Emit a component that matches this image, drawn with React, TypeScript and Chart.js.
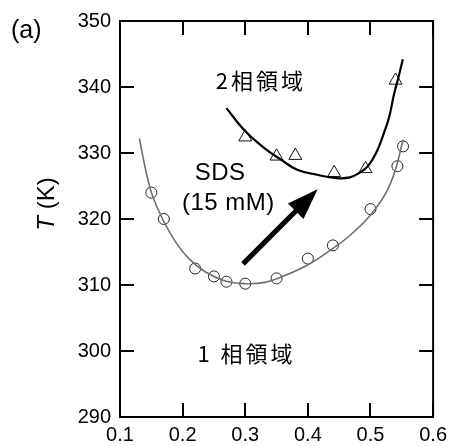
import React, { useEffect, useRef } from 'react';
import { Chart, registerables } from 'chart.js';
Chart.register(...registerables);

// 1-phase boundary (circles)
const circleX = [0.15, 0.17, 0.22, 0.25, 0.27, 0.30, 0.35, 0.40, 0.44, 0.50, 0.543, 0.552];
const circleY = [324.0, 320.0, 312.5, 311.3, 310.5, 310.2, 311.0, 314.0, 316.0, 321.5, 328.0, 331.0];

// 2-phase boundary (triangles)
const triX = [0.30, 0.35, 0.38, 0.442, 0.492, 0.540];
const triY = [332.4, 329.5, 329.6, 327.0, 327.6, 341.0];

// gray fit curve
const grayFitX = [0.131, 0.142, 0.152, 0.168, 0.189, 0.210, 0.236, 0.268, 0.300, 0.331, 0.362, 0.399, 0.435, 0.467, 0.499, 0.525, 0.540, 0.552];
const grayFitY = [332.2, 327.0, 323.5, 320.0, 316.5, 314.0, 312.0, 310.6, 310.2, 310.4, 311.4, 313.0, 315.2, 317.5, 320.5, 324.0, 327.5, 332.0];

// black fit curve
const blackFitX = [0.270, 0.299, 0.331, 0.357, 0.383, 0.4145, 0.446, 0.467, 0.4825, 0.4958, 0.5088, 0.5193, 0.5297, 0.5376, 0.5445, 0.5517];
const blackFitY = [336.8, 333.4, 330.7, 329.0, 327.45, 326.7, 326.2, 326.3, 327.0, 328.0, 329.95, 332.45, 335.4, 338.9, 341.4, 344.2];

// axis ticks
const xTicks = [0.1, 0.2, 0.3, 0.4, 0.5, 0.6];
const xTickLabels = ['0.1', '0.2', '0.3', '0.4', '0.5', '0.6'];
const yTicks = [290, 300, 310, 320, 330, 340, 350];
const yTickLabels = ['290', '300', '310', '320', '330', '340', '350'];

// arrow (data coords)
const arrowFrom = [0.2965, 313.2];
const arrowTo = [0.4156, 324.5];

// annotations
const notes = [
  { text: '2相領域', x: 0.325, y: 341.0 },
  { text: 'SDS', x: 0.26, y: 326.9 },
  { text: '(15 mM)', x: 0.273, y: 322.3 },
  { text: '1 相領域', x: 0.302, y: 299.6 },
];

const toPts = (xs: number[], ys: number[]) => xs.map((x, i) => ({ x, y: ys[i] }));

const decorPlugin = {
  id: 'decor',
  afterDatasetsDraw(chart: any) {
    const { ctx, chartArea: a, scales } = chart;
    const xs = scales.x, ys = scales.y;
    ctx.save();
    // frame
    ctx.strokeStyle = '#000';
    ctx.lineWidth = 2;
    ctx.strokeRect(a.left, a.top, a.right - a.left, a.bottom - a.top);
    // inward ticks
    const tl = 14;
    ctx.beginPath();
    xTicks.forEach((v) => {
      const px = Math.round(xs.getPixelForValue(v));
      ctx.moveTo(px, a.bottom); ctx.lineTo(px, a.bottom - tl);
      ctx.moveTo(px, a.top); ctx.lineTo(px, a.top + tl);
    });
    yTicks.forEach((v) => {
      const py = Math.round(ys.getPixelForValue(v));
      ctx.moveTo(a.left, py); ctx.lineTo(a.left + tl, py);
      ctx.moveTo(a.right, py); ctx.lineTo(a.right - tl, py);
    });
    ctx.stroke();

    // arrow
    const x1 = xs.getPixelForValue(arrowFrom[0]), y1 = ys.getPixelForValue(arrowFrom[1]);
    const x2 = xs.getPixelForValue(arrowTo[0]), y2 = ys.getPixelForValue(arrowTo[1]);
    const ang = Math.atan2(y2 - y1, x2 - x1);
    const hl = 31, hw = 11;
    const bx = x2 - Math.cos(ang) * hl, by = y2 - Math.sin(ang) * hl;
    ctx.lineWidth = 5;
    ctx.lineCap = 'butt';
    ctx.beginPath();
    ctx.moveTo(x1, y1);
    ctx.lineTo(bx + Math.cos(ang) * 2, by + Math.sin(ang) * 2);
    ctx.stroke();
    ctx.fillStyle = '#000';
    ctx.beginPath();
    ctx.moveTo(x2, y2);
    ctx.lineTo(bx - Math.sin(ang) * hw, by + Math.cos(ang) * hw);
    ctx.lineTo(bx + Math.sin(ang) * hw, by - Math.cos(ang) * hw);
    ctx.closePath();
    ctx.fill();

    // annotations
    ctx.fillStyle = '#000';
    ctx.textAlign = 'center';
    ctx.textBaseline = 'middle';
    notes.forEach((n) => {
      const isCJK = /[相領域]/.test(n.text);
      ctx.font = isCJK ? '22px "Noto Sans CJK JP"' : '24px "Liberation Sans"';
      (ctx as any).letterSpacing = isCJK ? '3px' : '0.5px';
      ctx.fillText(n.text, xs.getPixelForValue(n.x), ys.getPixelForValue(n.y));
    });
    (ctx as any).letterSpacing = '0px';

    // (a)
    ctx.textAlign = 'left';
    ctx.font = '25px "Liberation Sans"';
    ctx.fillText('(a)', 11, 31);

    // y title: T (K)
    ctx.translate(47, 204);
    ctx.rotate(-Math.PI / 2);
    ctx.font = 'italic 24px "Liberation Sans"';
    const tW = ctx.measureText('T').width;
    ctx.font = '24px "Liberation Sans"';
    const rW = ctx.measureText(' (K)').width;
    const start = -(tW + rW) / 2;
    ctx.textAlign = 'left';
    ctx.font = 'italic 24px "Liberation Sans"';
    ctx.fillText('T', start, 0);
    ctx.font = '24px "Liberation Sans"';
    ctx.fillText(' (K)', start + tW, 0);
    ctx.restore();
  },
};

export default function App() {
  const ref = useRef<HTMLCanvasElement>(null);
  useEffect(() => {
    const canvas = ref.current!;
    const tickFont = { family: '"Liberation Sans", Arial, sans-serif', size: 20 };
    const chart = new Chart(canvas, {
      type: 'scatter',
      data: {
        datasets: [
          {
            label: 'fit1',
            data: toPts(grayFitX, grayFitY),
            showLine: true,
            borderColor: '#6e6e6e',
            borderWidth: 1.6,
            pointRadius: 0,
            tension: 0.4,
          },
          {
            label: 'fit2',
            data: toPts(blackFitX, blackFitY),
            showLine: true,
            borderColor: '#000',
            borderWidth: 2.2,
            pointRadius: 0,
            tension: 0.4,
          },
          {
            label: '1相',
            data: toPts(circleX, circleY),
            pointStyle: 'circle',
            pointRadius: 5.5,
            pointBorderColor: '#222',
            pointBackgroundColor: 'rgba(255,255,255,0)',
            pointBorderWidth: 1,
          },
          {
            label: '2相',
            data: toPts(triX, triY),
            pointStyle: 'triangle',
            pointRadius: 7.5,
            pointBorderColor: '#111',
            pointBackgroundColor: 'rgba(255,255,255,0)',
            pointBorderWidth: 1,
          },
        ],
      },
      options: {
        responsive: false,
        animation: false,
        layout: { padding: { left: 0, right: 15, top: 16, bottom: 0 } },
        plugins: { legend: { display: false }, tooltip: { enabled: false } },
        scales: {
          x: {
            type: 'linear',
            min: 0.1,
            max: 0.6,
            afterFit: (s: any) => { s.height = 29; },
            afterBuildTicks: (s: any) => { s.ticks = xTicks.map((v) => ({ value: v })); },
            grid: { display: false, drawTicks: false },
            border: { display: false },
            ticks: {
              padding: 6,
              color: '#000',
              font: tickFont,
              maxRotation: 0,
              autoSkip: false,
              callback: (v: any) => xTickLabels[xTicks.findIndex((t) => Math.abs(t - v) < 1e-6)] ?? '',
            },
          },
          y: {
            type: 'linear',
            min: 290,
            max: 350,
            afterFit: (s: any) => { s.width = 120; },
            afterBuildTicks: (s: any) => { s.ticks = yTicks.map((v) => ({ value: v })); },
            grid: { display: false, drawTicks: false },
            border: { display: false },
            ticks: {
              padding: 9,
              color: '#000',
              font: tickFont,
              autoSkip: false,
              callback: (v: any) => yTickLabels[yTicks.indexOf(v)] ?? '',
            },
          },
        },
      },
      plugins: [decorPlugin],
    } as any);
    return () => chart.destroy();
  }, []);
  return (
    <div style={{ position: 'fixed', left: 0, top: 0, width: 453, height: 446, background: '#fff' }}>
      <canvas ref={ref} width={453} height={446} style={{ width: 453, height: 446, display: 'block' }} />
    </div>
  );
}
